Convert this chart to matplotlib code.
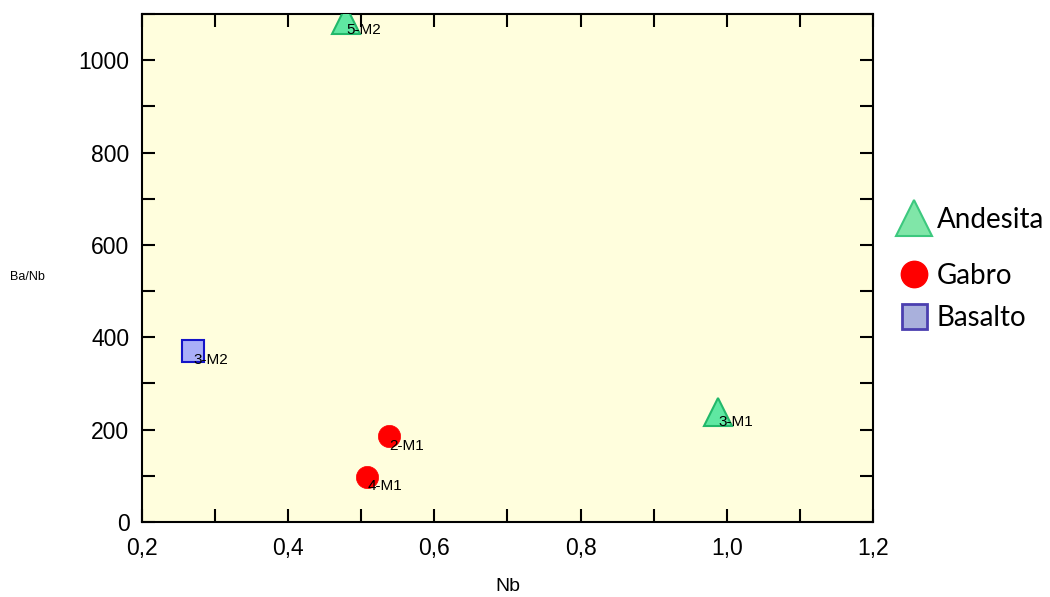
import matplotlib
matplotlib.use("Agg")
import matplotlib.pyplot as plt
from matplotlib.lines import Line2D
from matplotlib.ticker import MultipleLocator, FuncFormatter

# Data
andesita_nb = [0.479, 0.988]
andesita_banb = [1087, 238]
andesita_lbl = ["5-M2", "3-M1"]

gabro_nb = [0.538, 0.508]
gabro_banb = [186, 98]
gabro_lbl = ["2-M1", "4-M1"]

basalto_nb = [0.270]
basalto_banb = [371]
basalto_lbl = ["3-M2"]

legend_names = ['Andesita', 'Gabro', 'Basalto']

plt.rcParams['font.family'] = ['Liberation Sans', 'DejaVu Sans']

fig = plt.figure(figsize=(10.5, 5.97), dpi=100)
ax = fig.add_axes([0.1352, 0.1256, 0.6962, 0.8509])
ax.set_facecolor('#FFFEDD')

tri_face, tri_edge = '#5FE8A2', '#22B86A'
sq_face, sq_edge = '#AAAFF8', '#1414C8'

ax.plot(andesita_nb, andesita_banb, ls='none', marker='^', ms=20,
        mfc=tri_face, mec=tri_edge, mew=1.5, zorder=3)
ax.plot(gabro_nb, gabro_banb, ls='none', marker='o', ms=16,
        mfc='#FF0000', mec='#FF0000', mew=0.5, zorder=3)
ax.plot(basalto_nb, basalto_banb, ls='none', marker='s', ms=16,
        mfc=sq_face, mec=sq_edge, mew=1.5, zorder=3)

for xs, ys, ls in [(andesita_nb, andesita_banb, andesita_lbl),
                   (gabro_nb, gabro_banb, gabro_lbl),
                   (basalto_nb, basalto_banb, basalto_lbl)]:
    for x, y, l in zip(xs, ys, ls):
        ax.annotate(l, (x, y), xytext=(0.5, -7), textcoords='offset points',
                    ha='left', va='center', fontsize=11, zorder=4)

ax.set_xlim(0.2, 1.2)
ax.set_ylim(0, 1100)
ax.xaxis.set_major_locator(MultipleLocator(0.2))
ax.xaxis.set_minor_locator(MultipleLocator(0.1))
ax.yaxis.set_major_locator(MultipleLocator(200))
ax.yaxis.set_minor_locator(MultipleLocator(100))
ax.xaxis.set_major_formatter(FuncFormatter(lambda v, p: f"{v:.1f}".replace('.', ',')))
ax.yaxis.set_major_formatter(FuncFormatter(lambda v, p: f"{v:.0f}"))

ax.tick_params(which='both', direction='in', top=True, right=True,
               length=9.5, width=1.5, labelsize=16.5)
ax.tick_params(axis='x', pad=11)
ax.tick_params(axis='y', pad=9)
for s in ax.spines.values():
    s.set_linewidth(1.5)

ax.set_xlabel('Nb', fontsize=14, labelpad=13)
ax.set_ylabel('Ba/Nb', fontsize=9, rotation=0, ha='left', va='center')
ax.yaxis.set_label_coords(-0.181, 0.482)

handles = [
    Line2D([], [], ls='none', marker='^', ms=26, mfc='#80E6A8', mec='#3CC87E', mew=1.5),
    Line2D([], [], ls='none', marker='o', ms=19, mfc='#FF0000', mec='#FF0000'),
    Line2D([], [], ls='none', marker='s', ms=18, mfc='#A9B0DC', mec='#4B3FB0', mew=2),
]
leg_y = [0.632, 0.538, 0.467]
for h, name, yy in zip(handles, legend_names, leg_y):
    lg = fig.legend([h], [name], loc='center left', bbox_to_anchor=(0.855, yy),
                    frameon=False, prop={'family': 'Lato', 'size': 20},
                    handletextpad=0.25, handlelength=1.15, borderpad=0,
                    borderaxespad=0)

fig.savefig('out.png', dpi=100)
